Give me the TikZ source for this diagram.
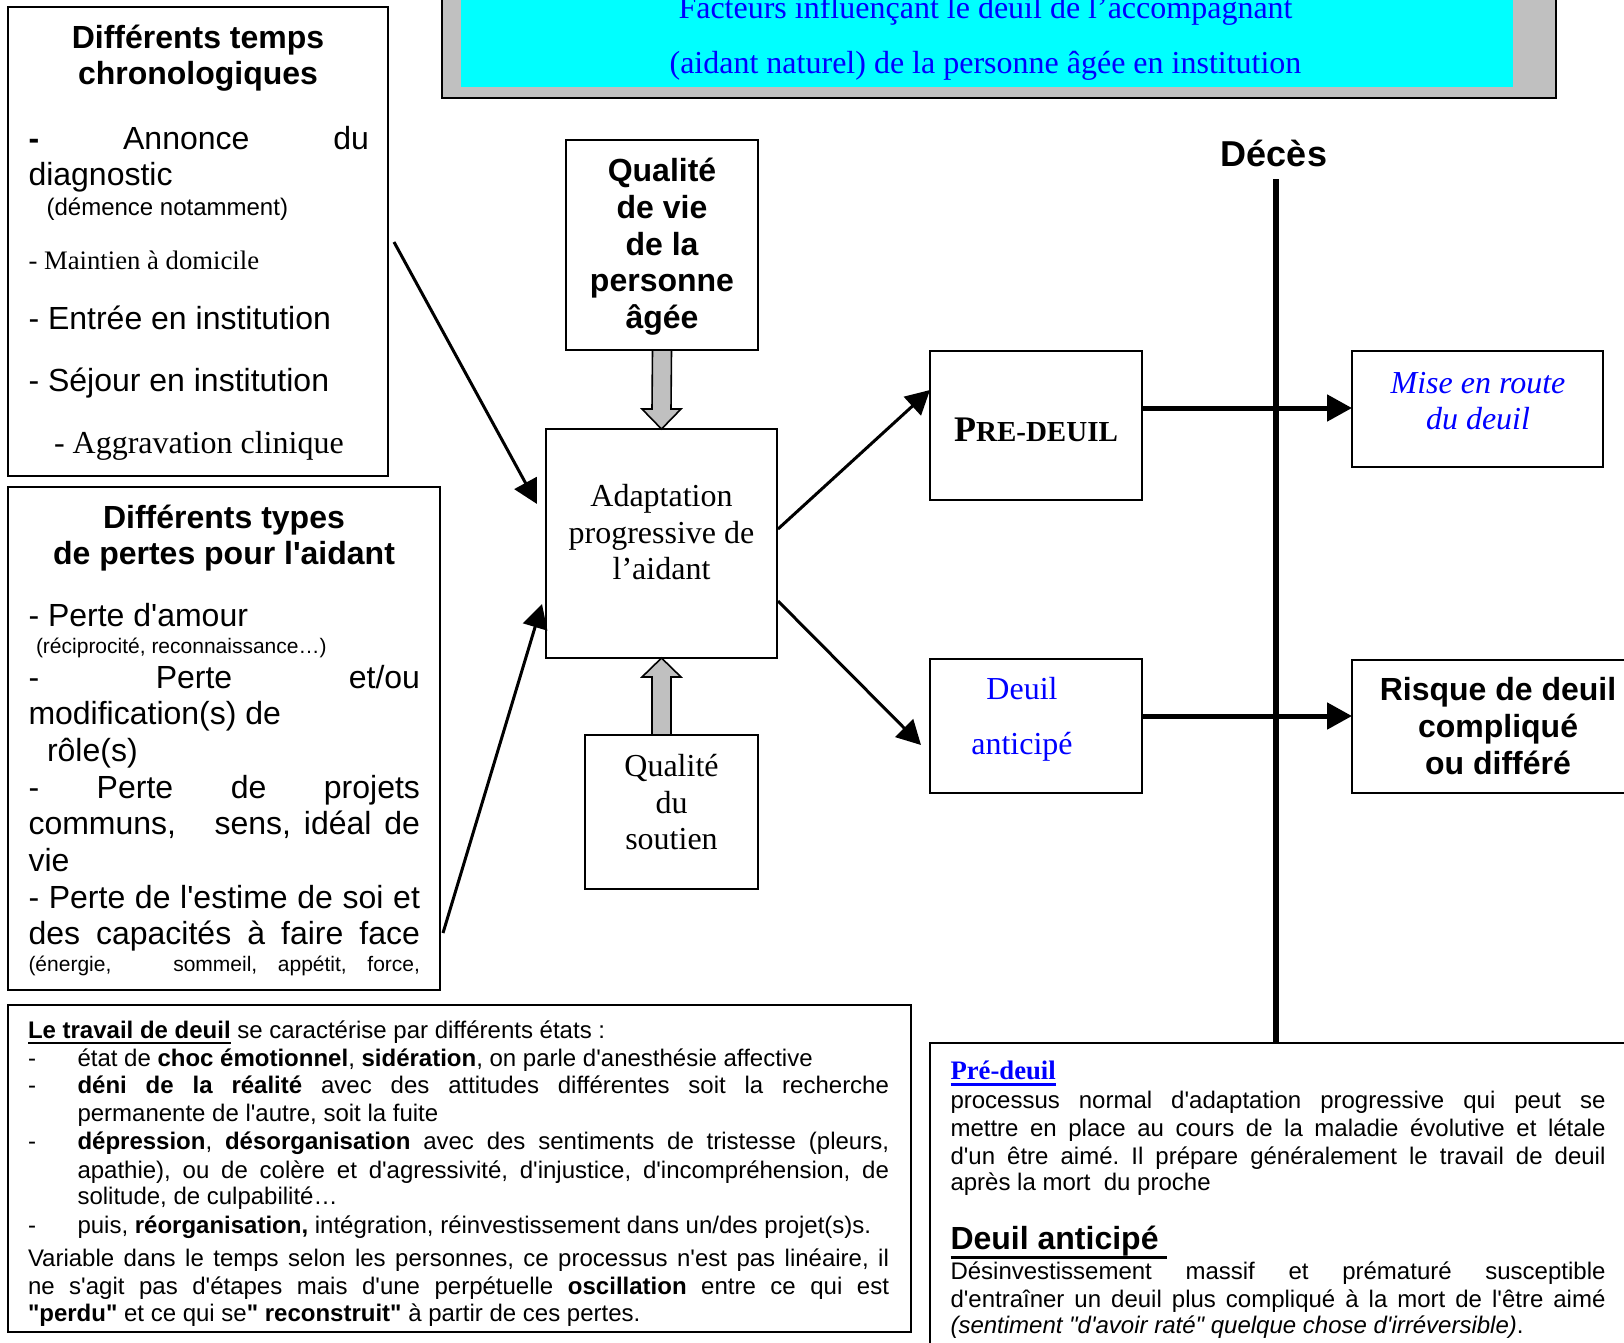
\documentclass[tikz,border=0pt]{standalone}
\usepackage{fontspec}
\usetikzlibrary{arrows.meta,calc}
\newfontfamily\arialf{Liberation Sans}
\newfontfamily\timesf{Liberation Serif}
\newcommand\fs[1]{\fontsize{#1}{#1}\selectfont}
\newcommand\jl[2]{\makebox[#1][s]{#2}}
\newcommand\myul[3]{\setbox0=\hbox{#3}\rlap{\rule[-#1]{\wd0}{#2}}\box0\relax}
\frenchspacing
\definecolor{wblue}{RGB}{0,0,255}
\definecolor{wcyan}{RGB}{0,255,255}
\definecolor{wgray}{RGB}{192,192,192}
\tikzset{
  box/.style={draw, line width=1.6pt, anchor=north west, inner sep=0pt, outer sep=0pt},
  tl/.style={anchor=base west, inner sep=0pt, outer sep=0pt, yshift=-1.5pt},
  tc/.style={anchor=base, inner sep=0pt, outer sep=0pt, yshift=-1.5pt},
  conn/.style={line width=3pt, -{Triangle[length=24pt,width=25pt]}},
  bigconn/.style={line width=5pt, -{Triangle[length=25pt,width=26pt]}},
  garrow/.style={draw, fill=wgray, line width=1.6pt, line join=miter},
}
\begin{document}
\begin{tikzpicture}[x=1pt,y=-1pt]
\useasboundingbox (0,0) rectangle (1624,1342);
\clip (0,0) rectangle (1624,1342);
\fill[white] (0,0) rectangle (1624,1342);

% ---------- title ----------
\node (tbox) [box, fill=wgray, line width=2pt, anchor=south west, minimum width=1114, minimum height=170] at (442,98) {};
\node (tcyan) [fill=wcyan, anchor=south west, inner sep=0pt, minimum width=1052, minimum height=160] at (461,87) {};
\node (t1) [tc, text=wblue] at (985.5,17) {\timesf\fs{32}Facteurs influençant le deuil de l’accompagnant};
\node (t2) [tc, text=wblue] at (985.5,71.5) {\timesf\fs{32}(aidant naturel) de la personne âgée en institution};

% ---------- box 1 ----------
\node (b1) [box, minimum width=380, minimum height=469] at (8,7) {};
\node (b1a) [tc] at (198,46.7) {\arialf\bfseries\fs{32}Différents temps};
\node (b1b) [tc] at (198,82.7) {\arialf\bfseries\fs{32}chronologiques};
\node (b1c) [tl] at (28.5,147.7) {\arialf\fs{32}\jl{340.5pt}{\textbf{-} Annonce du}};
\node (b1d) [tl] at (28.5,184) {\arialf\fs{32}diagnostic};
\node (b1e) [tl] at (46.6,214) {\arialf\fs{24}(démence notamment)};
\node (b1f) [tl] at (28.5,268) {\timesf\fs{26.7}- Maintien à domicile};
\node (b1g) [tl] at (28.5,328) {\arialf\fs{32}- Entrée en institution};
\node (b1h) [tl] at (28.5,390) {\arialf\fs{32}- Séjour en institution};
\node (b1i) [tl] at (54,452) {\timesf\fs{32}- Aggravation clinique};

% ---------- box 2 ----------
\node (b2) [box, minimum width=432, minimum height=503] at (8,487) {};
\node (b2a) [tc] at (224,527) {\arialf\bfseries\fs{32}Différents types};
\node (b2b) [tc] at (224,563) {\arialf\bfseries\fs{32}de pertes pour l'aidant};
\node (b2c) [tl] at (28.5,625) {\arialf\fs{32}- Perte d'amour};
\node (b2d) [tl] at (36,652) {\arialf\fs{21}(réciprocité, reconnaissance…)};
\node (b2e) [tl] at (28.5,687) {\arialf\fs{32}\jl{391.5pt}{- Perte et/ou}};
\node (b2f) [tl] at (28.5,723) {\arialf\fs{32}modification(s) de};
\node (b2g) [tl] at (47,760) {\arialf\fs{32}rôle(s)};
\node (b2h) [tl] at (28.5,797) {\arialf\fs{32}\jl{391.5pt}{- Perte de projets}};
\node (b2i) [tl] at (28.5,833) {\arialf\fs{32}\jl{391.5pt}{communs,\ \ \ sens, idéal de}};
\node (b2j) [tl] at (28.5,870) {\arialf\fs{32}vie};
\node (b2k) [tl] at (28.5,907) {\arialf\fs{32}\jl{391.5pt}{- Perte de l'estime de soi et}};
\node (b2l) [tl] at (28.5,943) {\arialf\fs{32}\jl{391.5pt}{des capacités à faire face}};
\node (b2m) [tl] at (28.5,970) {\arialf\fs{21}\jl{391.5pt}{(énergie,\ \ \ sommeil, appétit, force,}};

% ---------- centre column ----------
\node (qv) [box, minimum width=192, minimum height=210] at (566,140) {};
\node (qv1) [tc] at (662,180) {\arialf\bfseries\fs{32}Qualité};
\node (qv2) [tc] at (662,217) {\arialf\bfseries\fs{32}de vie};
\node (qv3) [tc] at (662,253.5) {\arialf\bfseries\fs{32}de la};
\node (qv4) [tc] at (662,290) {\arialf\bfseries\fs{32}personne};
\node (qv5) [tc] at (662,327) {\arialf\bfseries\fs{32}âgée};

\node (ad) [box, minimum width=231, minimum height=229] at (546,429) {};
\node (ad1) [tc] at (661.5,505) {\timesf\fs{32}Adaptation};
\node (ad2) [tc] at (661.5,542) {\timesf\fs{32}progressive de};
\node (ad3) [tc] at (661.5,578) {\timesf\fs{32}l’aidant};

\node (qs) [box, minimum width=173, minimum height=154] at (585,735) {};
\node (qs1) [tc] at (671.5,775) {\timesf\fs{32}Qualité};
\node (qs2) [tc] at (671.5,812) {\timesf\fs{32}du};
\node (qs3) [tc] at (671.5,848) {\timesf\fs{32}soutien};

% gray block arrows
\draw[garrow] ($(qv.south)+(-9.5,0)$) -- ($(qv.south)+(9.5,0)$) -- ($(ad.north)+(9.5,-20)$)
  -- ($(ad.north)+(19.5,-20)$) -- (ad.north) -- ($(ad.north)+(-19.5,-20)$) -- ($(ad.north)+(-9.5,-20)$) -- cycle;
\draw[garrow] ($(ad.south |- qs.north)+(-9.5,0)$) -- ($(ad.south |- qs.north)+(9.5,0)$) -- ($(ad.south)+(9.5,19)$)
  -- ($(ad.south)+(19.5,19)$) -- (ad.south) -- ($(ad.south)+(-19.5,19)$) -- ($(ad.south)+(-9.5,19)$) -- cycle;

% ---------- right part ----------
\node (pre) [box, minimum width=212, minimum height=149] at (930,351) {};
\node (pre1) [tc] at (1036,440) {\timesf\bfseries{\fs{36}P}{\fs{29}RE-DEUIL}};
\node (da) [box, minimum width=212, minimum height=134] at (930,659) {};
\node (da1) [tc, text=wblue] at (1022,698) {\timesf\fs{32}Deuil};
\node (da2) [tc, text=wblue] at (1022,753) {\timesf\fs{32}anticipé};

\node (mr) [box, minimum width=251, minimum height=116] at (1352,351) {};
\node (mr1) [tc, text=wblue] at (1478,392) {\timesf\itshape\fs{32}Mise en route};
\node (mr2) [tc, text=wblue] at (1478,428) {\timesf\itshape\fs{32}du deuil};
\node (rk) [box, minimum width=292, minimum height=133] at (1352,660) {};
\node (rk1) [tc] at (1498,699) {\arialf\bfseries\fs{32}Risque de deuil};
\node (rk2) [tc] at (1498,736) {\arialf\bfseries\fs{32}compliqué};
\node (rk3) [tc] at (1498,773) {\arialf\bfseries\fs{32}ou différé};

\node (deces) [tc] at (1274,165) {\arialf\bfseries\fs{36}Décès};

% ---------- bottom left box ----------
\node (bl) [box, minimum width=903, minimum height=327] at (8,1005) {};
\begin{scope}[every node/.style={tl}]
\node (bl1) at (28,1037) {\arialf\fs{24}\myul{5pt}{2pt}{\textbf{Le travail de deuil}} se caractérise par différents états :};
\node (bl2d) at (28,1065) {\arialf\fs{24}-};
\node (bl2) at (77.5,1065) {\arialf\fs{24}état de \textbf{choc émotionnel}, \textbf{sidération}, on parle d'anesthésie affective};
\node (bl3d) at (28,1092) {\arialf\fs{24}-};
\node (bl3) at (77.5,1092) {\arialf\fs{24}\jl{811.5pt}{\textbf{déni de la réalité} avec des attitudes différentes soit la recherche}};
\node (bl4) at (77.5,1120) {\arialf\fs{24}permanente de l'autre, soit la fuite};
\node (bl5d) at (28,1148) {\arialf\fs{24}-};
\node (bl5) at (77.5,1148) {\arialf\fs{24}\jl{811.5pt}{\textbf{dépression}, \textbf{désorganisation} avec des sentiments de tristesse (pleurs,}};
\node (bl6) at (77.5,1177) {\arialf\fs{24}\jl{811.5pt}{apathie), ou de colère et d'agressivité, d'injustice, d'incompréhension, de}};
\node (bl7) at (77.5,1203) {\arialf\fs{24}solitude, de culpabilité…};
\node (bl8d) at (28,1232) {\arialf\fs{24}-};
\node (bl8) at (77.5,1232) {\arialf\fs{24}puis, \textbf{réorganisation,} intégration, réinvestissement dans un/des projet(s)s.};
\node (bl9) at (28,1265) {\arialf\fs{24}\jl{861pt}{Variable dans le temps selon les personnes, ce processus n'est pas linéaire, il}};
\node (bl10) at (28,1293) {\arialf\fs{24}\jl{861pt}{ne s'agit pas d'étapes mais d'une perpétuelle \textbf{oscillation} entre ce qui est}};
\node (bl11) at (28,1320) {\arialf\fs{24}\textbf{"perdu"} et ce qui se\textbf{" reconstruit"} à partir de ces pertes.};
\end{scope}

% ---------- bottom right box ----------
\node (br) [box, minimum width=720, minimum height=330] at (930,1043) {};
\begin{scope}[every node/.style={tl}]
\node (br0) [text=wblue] at (950.5,1078) {\timesf\bfseries\fs{26.7}\myul{6pt}{2.5pt}{Pré-deuil}};
\node (br1) at (950.5,1107) {\arialf\fs{24}\jl{655pt}{processus normal d'adaptation progressive qui peut se}};
\node (br2) at (950.5,1135) {\arialf\fs{24}\jl{655pt}{mettre en place au cours de la maladie évolutive et létale}};
\node (br3) at (950.5,1163) {\arialf\fs{24}\jl{655pt}{d'un être aimé. Il prépare généralement le travail de deuil}};
\node (br4) at (950.5,1189) {\arialf\fs{24}après la mort\ \ du proche};
\node (br5) at (950.5,1248) {\arialf\bfseries\fs{32}\myul{9pt}{3pt}{Deuil anticipé }};
\node (br6) at (950.5,1278) {\arialf\fs{24}\jl{655pt}{Désinvestissement massif et prématuré susceptible}};
\node (br7) at (950.5,1306) {\arialf\fs{24}\jl{655pt}{d'entraîner un deuil plus compliqué à la mort de l'être aimé}};
\node (br8) at (950.5,1332) {\arialf\fs{24}\textit{(sentiment "d'avoir raté" quelque chose d'irréversible)}.};
\end{scope}

% ---------- connectors ----------
\coordinate (s1) at (394,242);
\coordinate (e1) at (537,504);
\coordinate (s2) at (443,933);
\coordinate (e2) at (542,604);
\coordinate (s3) at (778,529);
\coordinate (e3) at (930,390);
\coordinate (s4) at (778,601);
\coordinate (e4) at (921,745);
\draw[conn] (s1) -- (e1);
\draw[conn] (s2) -- (e2);
\draw[conn] (s3) -- (e3);
\draw[conn] (s4) -- (e4);

\coordinate (dtop) at (1276,179);
\draw[line width=5.5pt] (dtop) -- (dtop |- br.north);
\draw[bigconn] (pre.east |- 0,408) -- (mr.west |- 0,408);
\draw[bigconn] (da.east |- 0,716) -- (rk.west |- 0,716);
\end{tikzpicture}
\end{document}
